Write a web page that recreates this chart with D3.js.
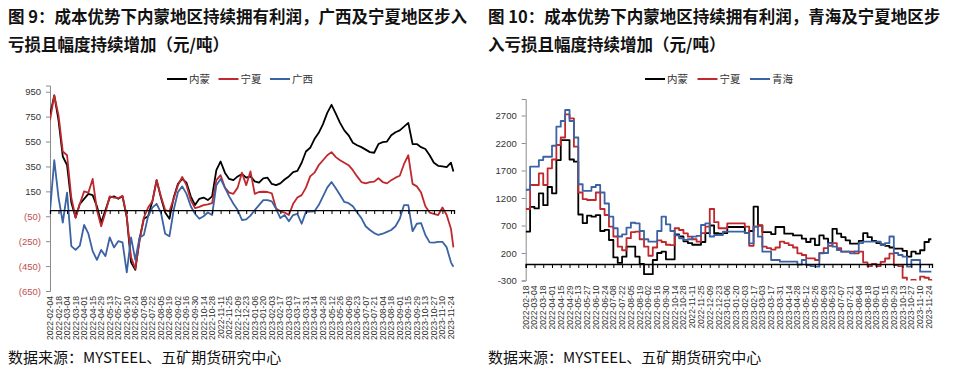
<!DOCTYPE html>
<html>
<head>
<meta charset="utf-8">
<script src="https://cdn.jsdelivr.net/npm/d3@7"></script>
<style>
  body { margin: 0; background: #fff; }
  svg { display: block; }
</style>
</head>
<body>
<div id="container"></div>
<script>
// ---- data ----
let leftTicks = ["2022-02-04","2022-02-18","2022-03-04","2022-03-18","2022-04-01","2022-04-15","2022-04-29","2022-05-13","2022-05-27","2022-06-10","2022-06-24","2022-07-08","2022-07-22","2022-08-05","2022-08-19","2022-09-02","2022-09-16","2022-09-30","2022-10-14","2022-10-28","2022-11-11","2022-11-25","2022-12-09","2022-12-23","2023-01-06","2023-01-20","2023-02-03","2023-02-17","2023-03-03","2023-03-17","2023-03-31","2023-04-14","2023-04-28","2023-05-12","2023-05-26","2023-06-09","2023-06-23","2023-07-07","2023-07-21","2023-08-04","2023-08-18","2023-09-01","2023-09-15","2023-09-29","2023-10-13","2023-10-27","2023-11-10","2023-11-24"];
let rightTicks = leftTicks.slice(1);

// weekly dates (categories)
let parse = d3.timeParse("%Y-%m-%d");
let leftDates = d3.timeDay.range(parse("2022-02-04"), parse("2023-11-25"), 7).concat([parse("2023-11-28")]);
let rightDates = d3.timeDay.range(parse("2022-02-18"), parse("2023-11-25"), 7).concat([parse("2023-11-28")]);

// 图9 (元/吨)
let nmLeft = [760,920,720,430,360,60,-60,50,90,130,
  120,30,-100,0,100,110,90,110,-60,-420,
  -480,-230,-70,-50,70,240,100,-20,-70,100,
  210,250,220,110,40,90,100,80,110,320,
  390,300,250,240,270,290,260,270,230,220,
  255,260,210,200,214,245,270,305,315,380,
  470,500,570,620,690,780,845,775,700,640,
  600,540,520,505,485,465,460,530,545,550,
  600,625,640,670,700,530,530,505,490,440,
  380,355,350,345,380,310];
let nxLeft = [720,920,760,470,440,100,-60,50,150,140,
  250,0,-130,-20,110,100,95,115,-50,-380,
  -470,-250,-60,20,70,240,110,0,-10,90,
  200,265,200,80,15,25,40,45,55,240,
  280,180,140,130,180,300,200,310,130,145,
  147,145,134,13,-10,-20,-40,50,100,120,
  180,270,300,360,400,440,465,425,400,380,
  360,320,270,225,215,225,228,255,225,214,
  240,260,275,370,440,210,190,140,30,-20,
  -30,-40,20,-40,-150,-300];
let gxLeft = [-10,400,100,-100,140,-290,-320,-285,-120,-190,
  -330,-400,-320,-370,-220,-300,-250,-260,-500,-220,
  -400,-220,-200,-50,20,50,-20,-190,-210,0,
  145,190,130,30,-30,-70,-50,-20,-40,200,
  250,180,110,50,0,-80,-75,-45,0,40,
  80,80,70,10,-65,-40,-90,-40,-30,-110,
  -15,-13,-10,40,110,180,225,175,120,65,
  55,30,-20,-65,-130,-160,-185,-200,-190,-175,
  -160,-130,-70,40,40,-170,-110,-105,-200,-260,
  -262,-255,-255,-300,-420,-455];

// 图10 (元/吨)
let nmRight = [590,1040,1010,1285,1070,1400,1285,1890,2254,2254,
  1900,1860,900,745,880,860,890,600,620,436,
  120,20,133,315,315,133,0,-185,-185,73,
  200,224,85,85,540,500,412,380,350,350,
  400,560,700,560,551,560,673,673,673,673,
  560,600,1042,700,580,580,545,673,673,551,
  551,520,520,460,400,460,345,520,460,380,
  640,551,490,430,370,370,420,560,490,420,
  380,355,330,300,280,280,240,133,224,190,
  250,400,450,450];
let nxRight = [1000,1436,1436,1648,1436,1740,1900,2164,2300,2720,
  2648,2133,1300,1180,1164,1164,1300,1000,891,679,
  500,315,250,470,580,590,450,315,150,300,
  430,400,350,345,650,618,558,497,450,406,
  560,680,1000,760,650,650,739,739,739,739,
  679,330,680,700,315,290,260,300,406,380,
  345,300,194,164,103,103,73,200,290,330,
  380,290,224,224,224,194,224,30,-40,0,
  -40,40,100,190,-18,-40,-250,-400,-290,-420,
  -230,-250,-290,-310];
let qhRight = [1350,1770,1770,1890,1950,1950,2150,2497,2600,2800,
  2600,2300,1450,1330,1330,1400,1436,1300,1100,861,
  650,500,540,660,750,740,600,450,406,406,
  600,860,720,600,520,467,440,450,497,510,
  709,739,500,527,527,588,588,588,588,588,
  560,376,680,497,224,224,73,73,42,42,
  42,42,-10,73,-18,-40,-48,194,200,376,
  315,255,224,224,194,230,380,406,406,406,
  406,345,380,500,200,164,133,-48,73,73,
  -140,-140,-140,-140];

let leftYTicks = [950,750,550,350,150,-50,-250,-450,-650];
let rightYTicks = [2700,2200,1700,1200,700,200,-300];

let colors = { "内蒙": "#000000", "宁夏": "#c0282d", "广西": "#3b62a3", "青海": "#3b62a3" };

// ---- svg ----
let W = 957, H = 375;
let svg = d3.select("#container").append("svg")
  .attr("width", W).attr("height", H)
  .style("background", "#fff");

let cjk = "'Noto Sans CJK SC', 'Noto Sans', sans-serif";
let latin = "'Liberation Sans', Arial, sans-serif";

function title(x, lines) {
  lines.forEach((t, i) => {
    svg.append("text")
      .attr("x", x).attr("y", 23 + i * 28)
      .attr("font-family", cjk).attr("font-weight", "bold")
      .attr("font-size", 16.5).attr("fill", "#111")
      .text(t);
  });
}

function source(x) {
  svg.append("text")
    .attr("x", x).attr("y", 363)
    .attr("font-family", cjk).attr("font-size", 15)
    .attr("fill", "#111")
    .text("数据来源：MYSTEEL、五矿期货研究中心");
}

function drawChart(cfg) {
  let x = d3.scaleTime().domain(cfg.xDomain).range(cfg.xRange);
  let y = d3.scaleLinear().domain(cfg.yDomain).range(cfg.yRange);
  let g = svg.append("g");

  let clipId = "clip" + cfg.id;
  svg.append("clipPath").attr("id", clipId)
    .append("rect")
    .attr("x", cfg.xRange[0]).attr("y", cfg.yRange[1])
    .attr("width", cfg.xRange[1] - cfg.xRange[0] + 2)
    .attr("height", cfg.yRange[0] - cfg.yRange[1]);

  // y axis
  let yAxis = d3.axisLeft(y).tickValues(cfg.yTicks).tickSize(4).tickPadding(5)
    .tickFormat(cfg.yFormat);
  let ya = g.append("g")
    .attr("transform", "translate(" + cfg.xRange[0] + ",0)")
    .call(yAxis);
  ya.select(".domain").attr("stroke", "#8c8c8c");
  ya.selectAll(".tick line").attr("stroke", "#8c8c8c");
  ya.selectAll(".tick text")
    .attr("font-family", latin).attr("font-size", 9.5)
    .attr("fill", d => cfg.yColor(d));

  // series
  cfg.series.forEach(s => {
    let line = d3.line()
      .x((d, i) => x(cfg.dates[i]))
      .y(d => y(d))
      .curve(cfg.curve);
    g.append("path")
      .datum(s.values)
      .attr("clip-path", "url(#" + clipId + ")")
      .attr("fill", "none")
      .attr("stroke", colors[s.name])
      .attr("stroke-width", 1.8)
      .attr("stroke-linejoin", "round")
      .attr("d", line);
  });

  // zero line with ticks
  let tickDates = cfg.xTicks.map(parse);
  let xAxis = d3.axisBottom(x).tickValues(tickDates).tickSize(4).tickFormat("");
  let xa = g.append("g")
    .attr("transform", "translate(0," + y(0) + ")")
    .call(xAxis);
  xa.select(".domain").attr("stroke", "#000").attr("stroke-width", 1.3);
  xa.selectAll(".tick line").attr("stroke", "#000");

  // date labels at bottom
  g.selectAll(".dlab")
    .data(cfg.xTicks)
    .enter().append("text")
    .attr("transform", d => "translate(" + (x(parse(d)) + 3) + "," + (cfg.yRange[0] + cfg.labelGap) + ") rotate(-90)")
    .attr("text-anchor", "end")
    .attr("font-family", latin).attr("font-size", 8.6)
    .attr("fill", "#333")
    .text(d => d);

  // legend
  let lx = cfg.legendX;
  cfg.series.forEach((s, i) => {
    let ox = lx + i * cfg.legendStep;
    g.append("line")
      .attr("x1", ox).attr("x2", ox + 20)
      .attr("y1", cfg.legendY).attr("y2", cfg.legendY)
      .attr("stroke", colors[s.name]).attr("stroke-width", 2);
    g.append("text")
      .attr("x", ox + 22).attr("y", cfg.legendY + 4)
      .attr("font-family", cjk).attr("font-size", 10.5)
      .attr("fill", "#333")
      .text(s.name);
  });
}

title(8, ["图 9：成本优势下内蒙地区持续拥有利润，广西及宁夏地区步入", "亏损且幅度持续增加（元/吨）"]);
title(488, ["图 10：成本优势下内蒙地区持续拥有利润，青海及宁夏地区步", "入亏损且幅度持续增加（元/吨）"]);

drawChart({
  id: "L",
  dates: leftDates,
  xDomain: [parse("2022-02-04"), parse("2023-11-29")],
  xRange: [50, 454],
  yDomain: [-650, 1000],
  yRange: [291, 85.5],
  yTicks: leftYTicks,
  yFormat: d => d < 0 ? "(" + Math.abs(d) + ")" : d,
  yColor: d => d < 0 ? "#c0504d" : "#333",
  xTicks: leftTicks,
  labelGap: 5,
  curve: d3.curveLinear,
  legendX: 167, legendY: 79, legendStep: 51.5,
  series: [
    { name: "内蒙", values: nmLeft },
    { name: "宁夏", values: nxLeft },
    { name: "广西", values: gxLeft }
  ]
});

drawChart({
  id: "R",
  dates: rightDates,
  xDomain: [parse("2022-02-18"), parse("2023-11-29")],
  xRange: [525.7, 932],
  yDomain: [-300, 3000],
  yRange: [280.5, 99],
  yTicks: rightYTicks,
  yFormat: d => d,
  yColor: d => "#333",
  xTicks: rightTicks,
  labelGap: 5,
  curve: d3.curveStepAfter,
  legendX: 645, legendY: 79, legendStep: 52.5,
  series: [
    { name: "内蒙", values: nmRight },
    { name: "宁夏", values: nxRight },
    { name: "青海", values: qhRight }
  ]
});

source(8);
source(488);
</script>
</body>
</html>
